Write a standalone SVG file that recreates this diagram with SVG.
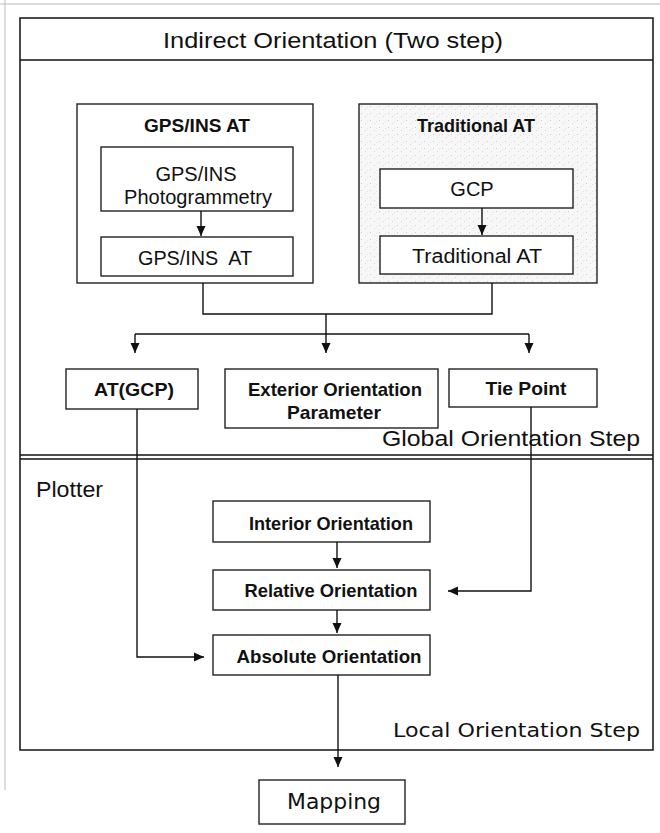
<svg xmlns="http://www.w3.org/2000/svg" width="660" height="833" viewBox="0 0 660 833">
<style>
.frame{fill:none;stroke:#111;stroke-width:1.5}
.box{fill:#fff;stroke:#222;stroke-width:1.4}
.shade{fill:url(#speck);stroke:#222;stroke-width:1.4}
.ln{fill:none;stroke:#111;stroke-width:1.4}
.t{font-family:"Liberation Sans",Arial,sans-serif;fill:#111;text-anchor:middle}
.lbl{font-size:19px;font-weight:bold}
.reg{font-size:20px}
.ttl{font-size:19px;font-weight:bold}
.big{font-size:22px}
.dv{font-family:"DejaVu Sans",Verdana,sans-serif}
.faint{stroke:#bbb;stroke-width:1;fill:none}
</style>
<defs>
<marker id="ah" markerWidth="12" markerHeight="12" refX="10" refY="5" orient="auto" markerUnits="userSpaceOnUse">
<path d="M0,0.5 L10,5 L0,9.5 Z" fill="#111"/>
</marker>
<pattern id="speck" width="9" height="7" patternUnits="userSpaceOnUse">
<rect width="9" height="7" fill="#f7f7f7"/>
<rect x="1" y="1" width="1" height="1" fill="#ccc"/>
<rect x="5" y="4" width="1" height="1" fill="#d8d8d8"/>
<rect x="7" y="2" width="1" height="1" fill="#e2e2e2"/>
</pattern>
</defs>
<rect width="660" height="833" fill="#fff"/>
<path class="faint" d="M0,4 H660 M5,0 V790"/>
<g id="frame">
<rect class="frame" x="20" y="18" width="633" height="732"/>
<line class="frame" x1="20" y1="60" x2="653" y2="60"/>
<line class="frame" x1="20" y1="455" x2="653" y2="455"/>
<line class="frame" x1="20" y1="459" x2="653" y2="459"/>
<text class="t big" x="333" y="48" textLength="340" lengthAdjust="spacingAndGlyphs">Indirect Orientation (Two step)</text>
<text class="t big" x="640" y="446" style="text-anchor:end" textLength="258" lengthAdjust="spacingAndGlyphs">Global Orientation Step</text>
<text class="t big" x="36" y="497" style="text-anchor:start" textLength="67" lengthAdjust="spacingAndGlyphs">Plotter</text>
<text class="t dv" style="font-size:20px;text-anchor:end" x="640" y="737" textLength="247" lengthAdjust="spacingAndGlyphs">Local Orientation Step</text>
</g>
<g id="gps-group">
<rect class="box" x="77" y="104" width="236" height="179"/>
<text class="t ttl" x="197" y="132" textLength="106" lengthAdjust="spacingAndGlyphs">GPS/INS AT</text>
</g>
<g id="gps-photo">
<rect class="box" x="101" y="147" width="192" height="64"/>
<text class="t reg" x="196" y="181">GPS/INS</text>
<text class="t reg" x="198" y="204">Photogrammetry</text>
</g>
<g id="gps-at">
<rect class="box" x="101" y="237" width="192" height="39"/>
<text class="t reg" x="195" y="265" xml:space="preserve" textLength="114" lengthAdjust="spacingAndGlyphs">GPS/INS  AT</text>
</g>
<g id="trad-group">
<rect class="shade" x="359" y="104" width="238" height="179"/>
<text class="t ttl" x="476" y="132" textLength="118" lengthAdjust="spacingAndGlyphs">Traditional AT</text>
</g>
<g id="gcp">
<rect class="box" x="380" y="169" width="193" height="39"/>
<text class="t reg" x="472" y="196">GCP</text>
</g>
<g id="trad-at">
<rect class="box" x="380" y="236" width="193" height="38"/>
<text class="t reg" x="477" y="263" textLength="130" lengthAdjust="spacingAndGlyphs">Traditional AT</text>
</g>
<g id="at-gcp">
<rect class="box" x="66" y="369" width="132" height="40"/>
<text class="t lbl" x="134" y="396" textLength="80" lengthAdjust="spacingAndGlyphs">AT(GCP)</text>
</g>
<g id="eop">
<rect class="box" x="225" y="369" width="213" height="59"/>
<text class="t lbl" x="335" y="396" textLength="174" lengthAdjust="spacingAndGlyphs">Exterior Orientation</text>
<text class="t lbl" x="334" y="419" textLength="94" lengthAdjust="spacingAndGlyphs">Parameter</text>
</g>
<g id="tie">
<rect class="box" x="449" y="369" width="148" height="38"/>
<text class="t lbl" x="526" y="395" textLength="81" lengthAdjust="spacingAndGlyphs">Tie Point</text>
</g>
<g id="interior">
<rect class="box" x="213" y="501" width="217" height="41"/>
<text class="t lbl" x="331" y="530" textLength="164" lengthAdjust="spacingAndGlyphs">Interior Orientation</text>
</g>
<g id="relative">
<rect class="box" x="213" y="570" width="217" height="40"/>
<text class="t lbl" x="331" y="597" textLength="173" lengthAdjust="spacingAndGlyphs">Relative Orientation</text>
</g>
<g id="absolute">
<rect class="box" x="213" y="635" width="217" height="40"/>
<text class="t lbl" x="329" y="663" textLength="185" lengthAdjust="spacingAndGlyphs">Absolute Orientation</text>
</g>
<g id="mapping">
<rect class="box" x="259" y="780" width="146" height="44"/>
<text class="t dv" style="font-size:21px" x="334" y="809" textLength="94" lengthAdjust="spacingAndGlyphs">Mapping</text>
</g>
<g id="connectors">
<line class="ln" x1="201" y1="211" x2="201" y2="236" marker-end="url(#ah)"/>
<line class="ln" x1="482" y1="208" x2="482" y2="235" marker-end="url(#ah)"/>
<path class="ln" d="M203,283 V314 H492 V283"/>
<path class="ln" d="M326,314 V353" marker-end="url(#ah)"/>
<path class="ln" d="M135,334 H529"/>
<path class="ln" d="M135,334 V353" marker-end="url(#ah)"/>
<path class="ln" d="M529,334 V353" marker-end="url(#ah)"/>
<path class="ln" d="M137,409 V657 H204" marker-end="url(#ah)"/>
<path class="ln" d="M531,407 V591 H448" marker-end="url(#ah)"/>
<path class="ln" d="M337,542 V568" marker-end="url(#ah)"/>
<path class="ln" d="M337,610 V633" marker-end="url(#ah)"/>
<path class="ln" d="M338,675 V767" marker-end="url(#ah)"/>
</g>
</svg>
